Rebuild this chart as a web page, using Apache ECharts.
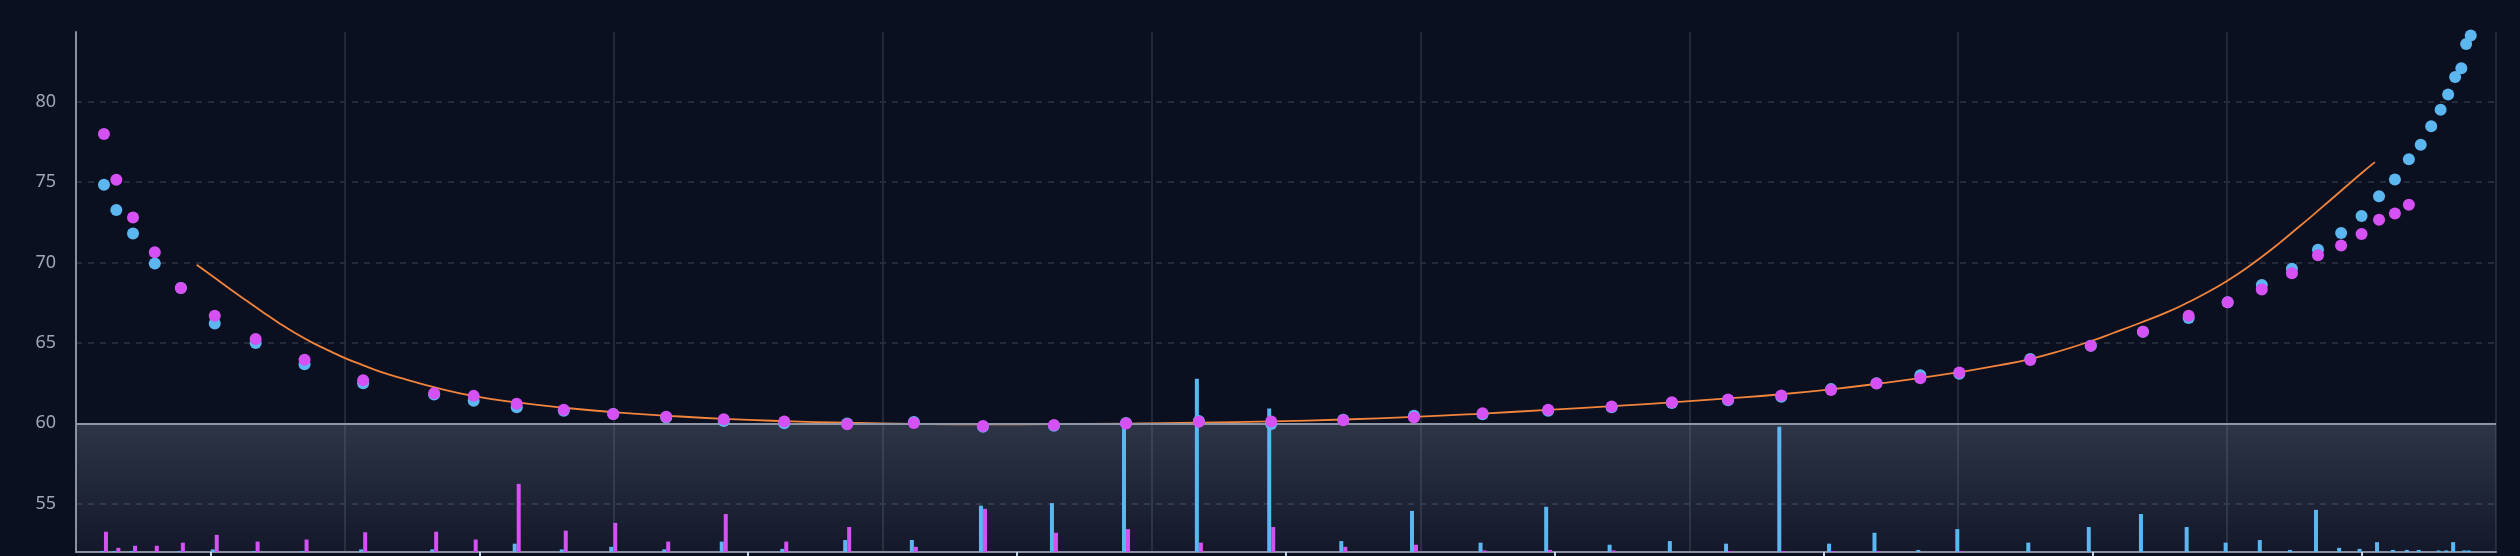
<!DOCTYPE html>
<html>
<head>
<meta charset="utf-8">
<script src="https://cdn.jsdelivr.net/npm/echarts/dist/echarts.min.js"></script>
<style>
  html, body { margin: 0; padding: 0; background: #0b1021; }
  #chart { width: 2520px; height: 556px; }
</style>
</head>
<body>
<div id="chart"></div>
<script>
// ---- data ----
const strikeX = [1.04,1.50,2.12,2.93,3.90,5.16,6.68,8.50,10.68,13.32,14.79,16.39,18.14,19.98,21.95,24.09,26.34,28.68,31.16,33.73,36.37,39.05,41.76,44.45,47.13,49.76,52.31,54.75,57.11,59.35,61.44,63.42,65.27,66.96,68.59,70.04,72.68,74.93,76.87,78.57,80.02,81.29,82.41,83.38,84.24,85.00,85.65,86.24,86.76,87.20,87.59,87.94,88.22,88.48,88.71,88.89,89.06];

const blueIV = [74.84,73.27,71.81,69.94,68.42,66.21,65.00,63.67,62.50,61.80,61.40,61.00,60.78,60.58,60.36,60.14,60.01,59.99,60.08,59.79,59.85,60.03,60.14,59.96,60.23,60.47,60.56,60.78,61.00,61.27,61.44,61.66,62.13,62.50,62.99,63.08,64.00,64.82,65.70,66.56,67.53,68.61,69.61,70.80,71.84,72.89,74.13,75.17,76.43,77.33,78.48,79.51,80.46,81.54,82.09,83.59,84.12];

const magentaIV = [77.99,75.15,72.81,70.64,68.42,66.69,65.24,63.96,62.68,61.88,61.71,61.22,60.84,60.58,60.41,60.25,60.12,59.94,60.03,59.83,59.90,59.99,60.10,60.12,60.19,60.36,60.63,60.85,61.05,61.31,61.49,61.73,62.08,62.48,62.81,63.16,63.94,64.82,65.70,66.69,67.53,68.33,69.34,70.45,71.06,71.77,72.67,73.05,73.60];

const blueVolume = [2,2,2,0,2,5,2,2,5,5,0,16,5,10,5,20,6,23,23,89,94,246,333,276,21,79,18,87,14,21,16,241,16,37,4,44,18,48,73,48,18,23,4,81,8,6,19,4,4,4,0,3,3,19,0,3,3];

const magentaVolume = [39,8,12,12,18,33,20,24,38,39,24,131,41,56,20,73,20,48,10,83,37,44,18,48,10,14,3,4,3,0,2,2,2,2,0,2,0,0,0,0,0,0,0,0,0,0,0,0,0];

const fitX  = [4.489,5.106,5.727,6.348,6.966,7.587,8.208,8.825,9.446,10.004,10.684,11.305,12.172,13.314,14.801,16.400,18.148,19.970,21.941,24.098,26.330,28.672,31.164,33.730,36.370,39.048,41.763,44.440,47.118,49.758,52.324,54.742,57.122,59.353,61.435,63.406,65.266,66.976,68.575,70.026,71.551,72.667,73.782,74.961,75.764,76.757,77.750,78.617,79.238,79.982,80.725,81.343,81.964,82.585,83.202,83.823,84.444,85.061,85.496];
const fitIV = [69.86,69.12,68.36,67.62,66.90,66.20,65.56,64.99,64.49,64.06,63.61,63.22,62.78,62.25,61.70,61.30,60.97,60.70,60.48,60.28,60.14,60.04,59.97,59.94,59.95,59.99,60.05,60.12,60.24,60.40,60.61,60.84,61.07,61.31,61.55,61.81,62.12,62.46,62.82,63.18,63.62,64.00,64.50,65.13,65.62,66.24,66.90,67.58,68.12,68.84,69.66,70.42,71.24,72.10,72.97,73.86,74.76,75.65,76.25];

const bandTicks = ['1','2','3','4','5','6','7','8','9'];
const threshold = 60;

// ---- build series data ----
const zip = (xs, ys) => ys.map((v, i) => [xs[i], v]);

const chart = echarts.init(document.getElementById('chart'), null, { renderer: 'canvas' });

const option = {
  backgroundColor: '#0b1021',
  animation: false,
  grid: { left: 76, right: 24, top: 32, bottom: 4, containLabel: false, outerBoundsMode: 'none' },
  xAxis: [
    {
      type: 'value', min: 0, max: 90, interval: 10, position: 'bottom',
      axisLine: { show: true, onZero: false, lineStyle: { color: '#8a909d', width: 2 } },
      axisTick: { show: false },
      axisLabel: { show: false },
      splitLine: { show: true, lineStyle: { color: '#2b303e', width: 1.5, type: 'solid' } }
    },
    {
      type: 'category', data: bandTicks, position: 'bottom', boundaryGap: true, offset: 0,
      axisLine: { show: false },
      axisTick: { show: true, alignWithLabel: true, interval: 0, length: 6, lineStyle: { color: '#c4d6ea', width: 2 } },
      axisLabel: { show: false },
      splitLine: { show: false }
    }
  ],
  yAxis: [
    {
      type: 'value', min: 52, max: 84.34, splitNumber: 5,
      axisLine: { show: true, onZero: false, lineStyle: { color: '#8a909d', width: 2 } },
      axisTick: { show: false },
      axisLabel: {
        color: '#a0a6b3', fontSize: 18, fontFamily: 'Noto Sans', margin: 20,
        showMinLabel: false, showMaxLabel: false
      },
      splitLine: {
        show: true, showMinLine: false, showMaxLine: false,
        lineStyle: { color: '#2e3443', width: 1.5, type: [6, 6] }
      }
    },
    {
      type: 'value', min: 0, max: 1000, show: false,
      splitLine: { show: false }
    }
  ],
  series: [
    {
      name: 'bid volume', type: 'bar', xAxisIndex: 0, yAxisIndex: 1,
      data: zip(strikeX, blueVolume),
      barWidth: 4, barGap: '0%', z: 3,
      itemStyle: { color: '#5cb6f0' }
    },
    {
      name: 'ask volume', type: 'bar', xAxisIndex: 0, yAxisIndex: 1,
      data: zip(strikeX, magentaVolume),
      barWidth: 4, barGap: '0%', z: 3,
      itemStyle: { color: '#d651f4' }
    },
    {
      name: 'fit', type: 'line', xAxisIndex: 0, yAxisIndex: 0,
      data: zip(fitX, fitIV), smooth: 0.5, showSymbol: false, symbol: 'none', z: 4,
      lineStyle: { color: '#f2843c', width: 1.8 },
      markArea: {
        silent: true,
        itemStyle: {
          color: {
            type: 'linear', x: 0, y: 0, x2: 0, y2: 1,
            colorStops: [
              { offset: 0, color: 'rgba(148,163,184,0.25)' },
              { offset: 1, color: 'rgba(148,163,184,0.06)' }
            ]
          }
        },
        data: [[{ yAxis: 52 }, { yAxis: threshold }]]
      },
      markLine: {
        silent: true, symbol: 'none', label: { show: false },
        lineStyle: { color: '#8f95a2', width: 2, type: 'solid' },
        data: [{ yAxis: threshold }]
      }
    },
    {
      name: 'bid', type: 'scatter', xAxisIndex: 0, yAxisIndex: 0,
      data: zip(strikeX, blueIV), symbolSize: 12, z: 5,
      itemStyle: { color: '#5cb6f0', opacity: 1 }
    },
    {
      name: 'ask', type: 'scatter', xAxisIndex: 0, yAxisIndex: 0,
      data: zip(strikeX, magentaIV), symbolSize: 12, z: 6,
      itemStyle: { color: '#d651f4', opacity: 1 }
    }
  ]
};

chart.setOption(option);
</script>
</body>
</html>
